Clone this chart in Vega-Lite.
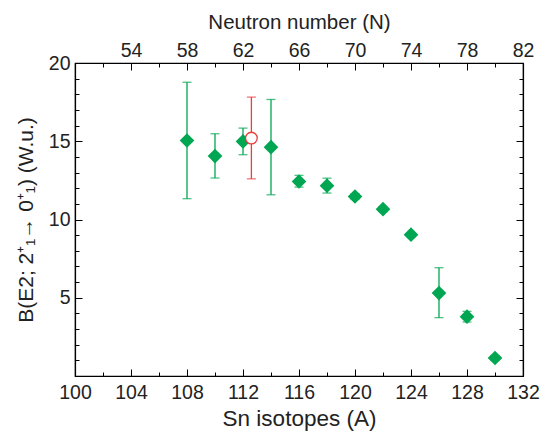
{
  "$schema": "https://vega.github.io/schema/vega-lite/v6.json",
  "width": 448,
  "height": 313,
  "autosize": {"type": "none"},
  "padding": {"left": 75, "top": 63, "right": 30, "bottom": 58},
  "background": "white",
  "config": {
    "view": {"stroke": "black", "strokeWidth": 1.2},
    "font": "Liberation Sans",
    "axis": {
      "domainColor": "black", "tickColor": "black", "labelColor": "#222", "titleColor": "#222",
      "labelFont": "Liberation Sans", "titleFont": "Liberation Sans",
      "labelFontSize": 19.5, "titleFontSize": 21, "titleFontWeight": "normal",
      "grid": false, "tickWidth": 1, "domainWidth": 1.2
    }
  },
  "data": {"values": [
    {"A": 108, "B": 15.05, "lo": 11.33, "hi": 18.77, "s": "g"},
    {"A": 110, "B": 14.05, "lo": 12.65, "hi": 15.48, "s": "g"},
    {"A": 112, "B": 14.99, "lo": 14.14, "hi": 15.84, "s": "g"},
    {"A": 114, "B": 14.62, "lo": 11.58, "hi": 17.67, "s": "g"},
    {"A": 116, "B": 12.43, "lo": 12.07, "hi": 12.82, "s": "g"},
    {"A": 118, "B": 12.16, "lo": 11.69, "hi": 12.64, "s": "g"},
    {"A": 120, "B": 11.47, "lo": 11.3, "hi": 11.65, "s": "g"},
    {"A": 122, "B": 10.66, "lo": 10.5, "hi": 10.82, "s": "g"},
    {"A": 124, "B": 9.03, "lo": 8.9, "hi": 9.16, "s": "g"},
    {"A": 126, "B": 5.30, "lo": 3.73, "hi": 6.92, "s": "g"},
    {"A": 128, "B": 3.79, "lo": 3.45, "hi": 4.13, "s": "g"},
    {"A": 130, "B": 1.15, "lo": 1.0, "hi": 1.3, "s": "g"},
    {"A": 112.6, "B": 15.2, "lo": 12.6, "hi": 17.82, "s": "r"}
  ]},
  "resolve": {"axis": {"x": "independent", "y": "independent"}},
  "layer": [
    {
      "transform": [{"filter": "datum.s == 'g'"}],
      "mark": {"type": "rule", "color": "#00a651", "strokeWidth": 1.3},
      "encoding": {
        "x": {"field": "A", "type": "quantitative", "scale": {"domain": [100, 132], "nice": false, "zero": false},
              "axis": {"orient": "bottom", "values": [102,106,110,114,118,122,126,130], "labels": false, "title": null, "tickSize": -4, "domain": false}},
        "y": {"field": "lo", "type": "quantitative", "scale": {"domain": [0, 20], "nice": false},
              "axis": {"orient": "left", "values": [1,2,3,4,6,7,8,9,11,12,13,14,16,17,18,19], "labels": false, "title": null, "tickSize": -4, "domain": false}},
        "y2": {"field": "hi"}
      }
    },
    {
      "transform": [{"filter": "datum.s == 'g'"}],
      "mark": {"type": "tick", "orient": "horizontal", "color": "#00a651", "size": 9, "thickness": 1.3},
      "encoding": {
        "x": {"field": "A", "type": "quantitative",
              "axis": {"orient": "top", "values": [102,106,110,114,118,122,126,130], "labels": false, "title": null, "tickSize": -4, "domain": false}},
        "y": {"field": "lo", "type": "quantitative",
              "axis": {"orient": "right", "values": [1,2,3,4,6,7,8,9,11,12,13,14,16,17,18,19], "labels": false, "title": null, "tickSize": -4, "domain": false}}
      }
    },
    {
      "transform": [{"filter": "datum.s == 'g'"}],
      "mark": {"type": "tick", "orient": "horizontal", "color": "#00a651", "size": 9, "thickness": 1.3},
      "encoding": {
        "x": {"field": "A", "type": "quantitative", "axis": null},
        "y": {"field": "hi", "type": "quantitative", "axis": null}
      }
    },
    {
      "transform": [{"filter": "datum.s == 'g'"}],
      "mark": {"type": "point", "shape": "diamond", "filled": true, "color": "#00a651", "size": 215, "opacity": 1},
      "encoding": {
        "x": {"field": "A", "type": "quantitative",
              "axis": {"orient": "bottom", "values": [100,104,108,112,116,120,124,128,132], "title": "Sn isotopes (A)", "titleFontSize": 22.5, "tickSize": -7, "labelPadding": 14, "titlePadding": 6, "labelFlush": false}},
        "y": {"field": "B", "type": "quantitative",
              "axis": {"orient": "left", "values": [0,5,10,15,20], "labelExpr": "datum.value == 0 ? '' : datum.label", "title": "B(E2; 2⁺₁→ 0⁺₁)  (W.u.)", "tickSize": -7, "labelPadding": 12, "titlePadding": 12, "labelFlush": false}}
      }
    },
    {
      "transform": [{"filter": "datum.s == 'r'"}],
      "mark": {"type": "rule", "color": "#ee3b3b", "strokeWidth": 1.3},
      "encoding": {
        "x": {"field": "A", "type": "quantitative",
              "axis": {"orient": "top", "values": [100,104,108,112,116,120,124,128,132], "labelExpr": "datum.value == 100 ? '' : format(datum.value - 50, 'd')", "title": "Neutron number (N)", "titleFontSize": 20.5, "tickSize": -7, "labelPadding": 10, "titlePadding": 8, "labelFlush": false}},
        "y": {"field": "lo", "type": "quantitative",
              "axis": {"orient": "right", "values": [0,5,10,15,20], "labels": false, "title": null, "tickSize": -7}},
        "y2": {"field": "hi"}
      }
    },
    {
      "transform": [{"filter": "datum.s == 'r'"}],
      "mark": {"type": "tick", "orient": "horizontal", "color": "#ee3b3b", "size": 9, "thickness": 1.3},
      "encoding": {
        "x": {"field": "A", "type": "quantitative", "axis": null},
        "y": {"field": "lo", "type": "quantitative", "axis": null}
      }
    },
    {
      "transform": [{"filter": "datum.s == 'r'"}],
      "mark": {"type": "tick", "orient": "horizontal", "color": "#ee3b3b", "size": 9, "thickness": 1.3},
      "encoding": {
        "x": {"field": "A", "type": "quantitative", "axis": null},
        "y": {"field": "hi", "type": "quantitative", "axis": null}
      }
    },
    {
      "transform": [{"filter": "datum.s == 'r'"}],
      "mark": {"type": "point", "shape": "circle", "filled": true, "fill": "white", "stroke": "#ee3b3b", "strokeWidth": 1.3, "size": 137, "opacity": 1},
      "encoding": {
        "x": {"field": "A", "type": "quantitative", "axis": null},
        "y": {"field": "B", "type": "quantitative", "axis": null}
      }
    }
  ]
}
